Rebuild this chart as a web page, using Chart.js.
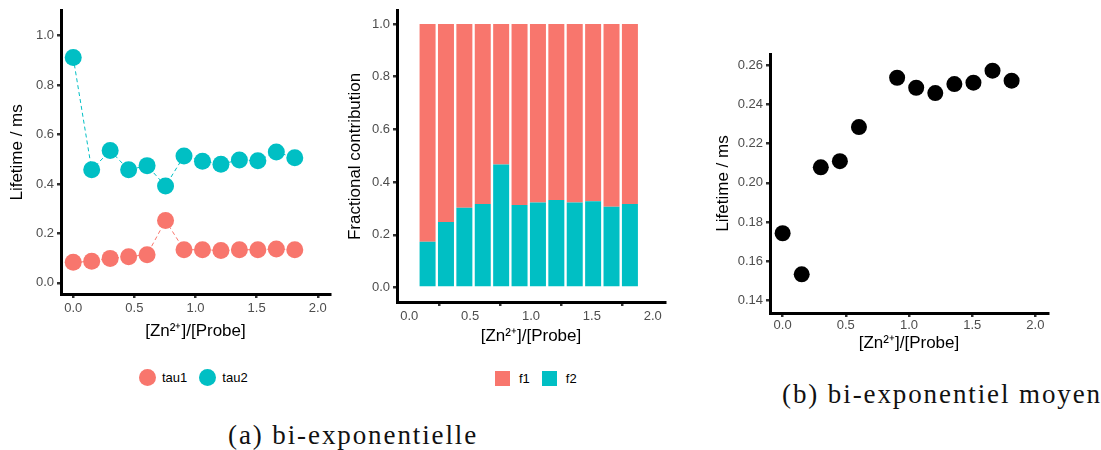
<!DOCTYPE html>
<html>
<head>
<meta charset="utf-8">
<script src="https://cdn.jsdelivr.net/npm/chart.js"></script>
<style>
  * { margin: 0; padding: 0; box-sizing: border-box; }
  body { width: 1101px; height: 450px; background: #fff; position: relative; overflow: hidden;
         font-family: 'Liberation Sans', Arial, sans-serif; }
  canvas { position: absolute; }
  #c1 { left: 0; top: 0; }
  #c2 { left: 340px; top: 0; }
  #c3 { left: 700px; top: 30px; }

  /* legends */
  .legend { position: absolute; display: flex; align-items: center; font-size: 13px; color: #000; }
  .legend .key { display: inline-block; width: 17px; height: 17px; margin-right: 6px; }
  .legend .dot { border-radius: 50%; }
  .legend .item { display: flex; align-items: center; margin-right: 12px; }
  #leg1 { left: 139px; top: 369px; }
  #leg2 { left: 495px; top: 371px; }
  #leg2 .key { width: 15px; height: 15px; margin-right: 9px; }

  /* captions */
  .caption { position: absolute; font-family: 'Liberation Serif', 'DejaVu Serif', serif;
             font-size: 27px; line-height: 27px; letter-spacing: 1.9px; color: #111; white-space: nowrap; }
  #capA { left: 228px; top: 422px; }
  #capB { left: 782px; top: 381px; }
</style>
</head>
<body>
<canvas id="c1" width="340" height="345"></canvas>
<canvas id="c2" width="340" height="350"></canvas>
<canvas id="c3" width="400" height="330"></canvas>

<div class="legend" id="leg1">
  <div class="item"><span class="key dot" style="background:#F8766D"></span>tau1</div>
  <div class="item"><span class="key dot" style="background:#00BFC4"></span>tau2</div>
</div>
<div class="legend" id="leg2">
  <div class="item"><span class="key" style="background:#F8766D"></span>f1</div>
  <div class="item"><span class="key" style="background:#00BFC4"></span>f2</div>
</div>

<div class="caption" id="capA">(a) bi-exponentielle</div>
<div class="caption" id="capB">(b) bi-exponentiel moyen</div>

<script>
  // Data
  const ratio = [0, 0.151, 0.302, 0.453, 0.604, 0.755, 0.906, 1.057, 1.208, 1.359, 1.510, 1.661, 1.812];
  const tau1 = [0.083, 0.087, 0.099, 0.106, 0.114, 0.252, 0.134, 0.134, 0.131, 0.134, 0.134, 0.137, 0.134];
  const tau2 = [0.911, 0.457, 0.535, 0.457, 0.474, 0.392, 0.513, 0.492, 0.480, 0.497, 0.494, 0.529, 0.506];

  const barRatio = [0.151, 0.302, 0.453, 0.604, 0.755, 0.906, 1.057, 1.208, 1.359, 1.510, 1.661, 1.812];
  const f1 = [0.826, 0.751, 0.697, 0.683, 0.533, 0.687, 0.677, 0.668, 0.677, 0.673, 0.694, 0.683];
  const f2 = [0.174, 0.249, 0.303, 0.317, 0.467, 0.313, 0.323, 0.332, 0.323, 0.327, 0.306, 0.317];

  const meanRatio = [0, 0.151, 0.302, 0.453, 0.604, 0.906, 1.057, 1.208, 1.359, 1.510, 1.661, 1.812];
  const tauMean = [0.1743, 0.1534, 0.2079, 0.2110, 0.2284, 0.2535, 0.2484, 0.2457, 0.2503, 0.2510, 0.2571, 0.2520];

  const xTicks = [0, 0.5, 1.0, 1.5, 2.0];
  const yTicksA = [0, 0.2, 0.4, 0.6, 0.8, 1.0];
  const yTicksMean = [0.14, 0.16, 0.18, 0.20, 0.22, 0.24, 0.26];

  const RED = '#F8766D';
  const TEAL = '#00BFC4';
  const xLabel = '[Zn\u00B2\u207A]/[Probe]';

  Chart.defaults.font.family = "'Liberation Sans', Arial, sans-serif";
  Chart.defaults.animation = false;

  const pts = (xs, ys) => xs.map((x, i) => ({ x: x, y: ys[i] }));

  // ggplot-like axis: thick black line, small dark ticks, grey labels
  function axis(opts) {
    return {
      type: 'linear',
      min: opts.min, max: opts.max,
      offset: false,
      stacked: opts.stacked || false,
      grid: { drawOnChartArea: false, drawTicks: true, tickLength: 4, color: '#333', lineWidth: 2.5 },
      border: { display: true, color: '#000', width: 3 },
      ticks: {
        color: '#4d4d4d', font: { size: 13 }, padding: opts.pad, maxRotation: 0, autoSkip: false,
        callback: v => v.toFixed(opts.digits)
      },
      title: { display: true, text: opts.title, color: '#000', font: { size: 17 }, padding: 0 },
      afterBuildTicks: s => { s.ticks = opts.ticks.map(v => ({ value: v })); },
      afterFit: s => { if (opts.width) s.width = opts.width; if (opts.height) s.height = opts.height; }
    };
  }

  const common = {
    responsive: false,
    plugins: { legend: { display: false }, tooltip: { enabled: false } },
    events: []
  };

  // (a) left: tau1 / tau2
  new Chart(document.getElementById('c1'), {
    type: 'scatter',
    data: {
      datasets: [
        { label: 'tau1', data: pts(ratio, tau1), showLine: true, borderColor: RED, borderWidth: 1,
          borderDash: [4, 3], backgroundColor: RED, pointRadius: 8.5, pointBorderWidth: 0 },
        { label: 'tau2', data: pts(ratio, tau2), showLine: true, borderColor: TEAL, borderWidth: 1,
          borderDash: [4, 3], backgroundColor: TEAL, pointRadius: 8.5, pointBorderWidth: 0 }
      ]
    },
    options: Object.assign({}, common, {
      layout: { padding: { left: 7, top: 10, right: 10, bottom: 3 } },
      scales: {
        x: axis({ min: -0.1, max: 2.1, ticks: xTicks, digits: 1, title: xLabel, height: 48, pad: 3 }),
        y: axis({ min: -0.045, max: 1.1, ticks: yTicksA, digits: 1, title: 'Lifetime / ms', width: 54, pad: 3 })
      }
    })
  });

  // (a) middle: fractional contribution
  new Chart(document.getElementById('c2'), {
    type: 'bar',
    data: {
      datasets: [
        { label: 'f2', data: pts(barRatio, f2), backgroundColor: TEAL },
        { label: 'f1', data: pts(barRatio, f1), backgroundColor: RED }
      ]
    },
    options: Object.assign({}, common, {
      barPercentage: 0.87,
      categoryPercentage: 1,
      layout: { padding: { left: 5, top: 10, right: 15, bottom: 3 } },
      scales: {
        x: axis({ min: -0.1, max: 2.1, ticks: xTicks, digits: 1, title: xLabel, height: 45, pad: 3, stacked: true }),
        y: axis({ min: -0.055, max: 1.05, ticks: yTicksA, digits: 1, title: 'Fractional contribution', width: 52, pad: 3, stacked: true })
      }
    })
  });

  // (b) right: mean lifetime
  new Chart(document.getElementById('c3'), {
    type: 'scatter',
    data: {
      datasets: [
        { label: 'tau', data: pts(meanRatio, tauMean), backgroundColor: '#000',
          pointRadius: 8, pointBorderWidth: 0 }
      ]
    },
    options: Object.assign({}, common, {
      layout: { padding: { left: 13, top: 24, right: 52, bottom: 6.5 } },
      scales: {
        x: axis({ min: -0.1, max: 2.1, ticks: xTicks, digits: 1, title: xLabel, height: 40.5, pad: 1 }),
        y: axis({ min: 0.1337, max: 0.2656, ticks: yTicksMean, digits: 2, title: 'Lifetime / ms', width: 57, pad: 3 })
      }
    })
  });
</script>
</body>
</html>
